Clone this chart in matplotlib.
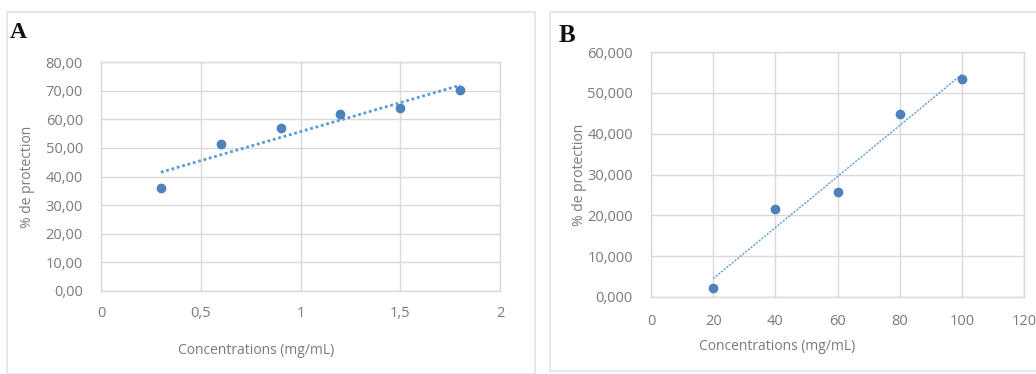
import numpy as np
import matplotlib
matplotlib.use("Agg")
import matplotlib.pyplot as plt
from matplotlib.patches import Rectangle

# Panel A data
conc_a = [0.3, 0.6, 0.9, 1.2, 1.5, 1.8]
prot_a = [36.1, 51.4, 56.8, 61.8, 63.8, 70.2]
xticks_a = [0, 0.5, 1, 1.5, 2]
xticklabels_a = ["0", "0,5", "1", "1,5", "2"]
yticks_a = [0, 10, 20, 30, 40, 50, 60, 70, 80]
yticklabels_a = ["0,00", "10,00", "20,00", "30,00", "40,00", "50,00", "60,00", "70,00", "80,00"]

# Panel B data
conc_b = [20, 40, 60, 80, 100]
prot_b = [2.3, 21.6, 25.6, 44.7, 53.3]
xticks_b = [0, 20, 40, 60, 80, 100, 120]
xticklabels_b = ["0", "20", "40", "60", "80", "100", "120"]
yticks_b = [0, 10, 20, 30, 40, 50, 60]
yticklabels_b = ["0,000", "10,000", "20,000", "30,000", "40,000", "50,000", "60,000"]

xlabel = "Concentrations (mg/mL)"
ylabel = "% de protection"

W, H = 1036, 374
fig = plt.figure(figsize=(W / 100, H / 100), dpi=100)
fig.patch.set_facecolor("white")

FONT = "Open Sans"
TICK_C = "#7a7a7a"
GRID_C = "#d9d9d9"
PT_C = "#4f81bd"
TICK_FS = 10.5
LAB_FS = 10


def px_axes(x0, y0, x1, y1):
    return fig.add_axes([x0 / W, 1 - y1 / H, (x1 - x0) / W, (y1 - y0) / H])


# light panel frames
fig.add_artist(Rectangle((7 / W, 0), (535 - 7) / W, 1 - 12 / H, transform=fig.transFigure,
                         fill=False, edgecolor="#e3e3e3", lw=1.2))
fig.add_artist(Rectangle((550 / W, 1 - 371 / H), (1040 - 550) / W, (371 - 12) / H,
                         transform=fig.transFigure, fill=False, edgecolor="#e3e3e3", lw=1.2))


def style(ax, xt, xtl, yt, ytl, xpad, ypad):
    ax.set_xticks(xt)
    ax.set_xticklabels(xtl)
    ax.set_yticks(yt)
    ax.set_yticklabels(ytl)
    ax.set_xlim(xt[0], xt[-1])
    ax.set_ylim(yt[0], yt[-1])
    ax.grid(True, color=GRID_C, lw=1.0)
    ax.set_axisbelow(True)
    for s in ax.spines.values():
        s.set_color(GRID_C)
        s.set_linewidth(1.0)
    ax.tick_params(length=0, colors=TICK_C, labelsize=TICK_FS)
    ax.tick_params(axis="x", pad=xpad)
    ax.tick_params(axis="y", pad=ypad)
    for lab in ax.get_xticklabels() + ax.get_yticklabels():
        lab.set_fontfamily(FONT)


def labels(ax, xpos, ypos):
    ax.set_xlabel(xlabel, fontfamily=FONT, fontsize=LAB_FS, color=TICK_C, va="center")
    ax.set_ylabel(ylabel, fontfamily=FONT, fontsize=LAB_FS, color=TICK_C, va="center")
    ax.xaxis.set_label_coords(*xpos)
    ax.yaxis.set_label_coords(*ypos)


def trend(ax, x, y, lw, ls):
    k, b = np.polyfit(x, y, 1)
    xs = np.array([min(x), max(x)])
    ax.plot(xs, k * xs + b, color="#5b9bd5", lw=lw, ls=ls, zorder=2)


# Panel A
axA = px_axes(101, 62, 500, 291)
style(axA, xticks_a, xticklabels_a, yticks_a, yticklabels_a, 11, 13)
trend(axA, conc_a, prot_a, 2.0, (0, (1, 1)))
axA.plot(conc_a, prot_a, "o", color=PT_C, ms=6, zorder=3)
labels(axA, (0.388, -0.258), (-0.183, 0.5))

# Panel B
axB = px_axes(651, 52, 1024, 297)
style(axB, xticks_b, xticklabels_b, yticks_b, yticklabels_b, 12, 13)
trend(axB, conc_b, prot_b, 1.0, (0, (1.5, 1)))
axB.plot(conc_b, prot_b, "o", color=PT_C, ms=6, zorder=3)
labels(axB, (0.338, -0.204), (-0.193, 0.5))

# panel letters
fig.text(10 / W, 1 - 38 / H, "A", fontfamily="Liberation Serif", fontweight="bold",
         fontsize=17, color="#111111")
fig.text(559 / W, 1 - 42 / H, "B", fontfamily="Liberation Serif", fontweight="bold",
         fontsize=18, color="#111111")

fig.savefig("out.png", dpi=100)
